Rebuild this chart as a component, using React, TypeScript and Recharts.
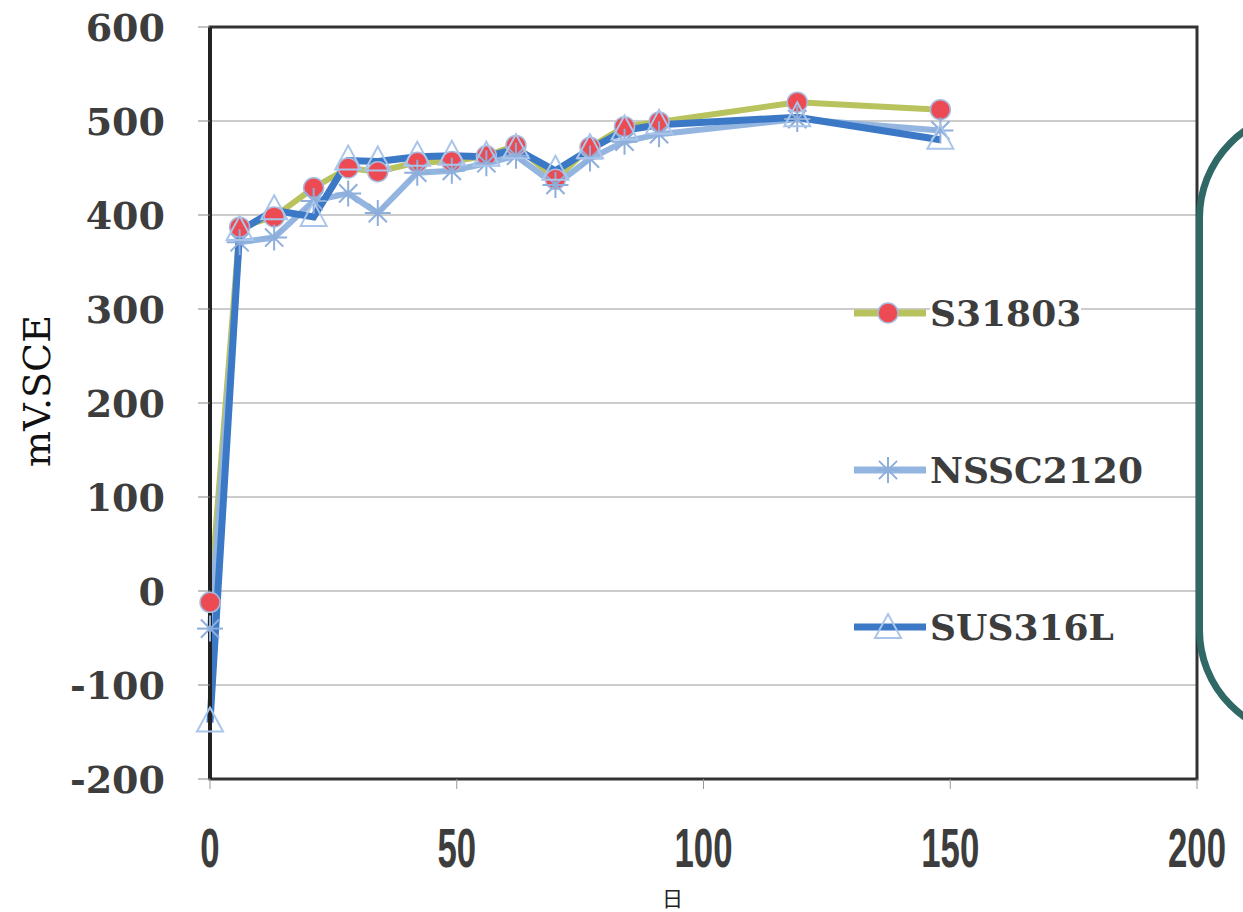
import React from 'react';
import {
  LineChart,
  Line,
  XAxis,
  YAxis,
  CartesianGrid,
  ReferenceArea,
} from 'recharts';

// Immersion days and potentials (mV vs SCE) per alloy
const days = [0, 6, 13, 21, 28, 34, 42, 49, 56, 62, 70, 77, 84, 91, 119, 148];
const s31803 = [-12, 387, 398, 429, 450, 446, 456, 457, 463, 474, 438, 472, 494, 499, 520, 512];
const nssc2120 = [-40, 371, 376, 415, 423, 402, 445, 447, 455, 463, 432, 460, 478, 486, 502, 490];
const sus316l = [-140, 383, 405, 398, 458, 457, 462, 463, 462, 470, 447, 470, 490, 496, 504, 480];

const xTicks = [0, 50, 100, 150, 200];
const yTicks = [-200, -100, 0, 100, 200, 300, 400, 500, 600];

const seriesNames = ['S31803', 'NSSC2120', 'SUS316L'];

const data = days.map((d, i) => ({
  day: d,
  S31803: s31803[i],
  NSSC2120: nssc2120[i],
  SUS316L: sus316l[i],
}));

const COLORS: Record<string, string> = {
  S31803: '#b9c35e',
  NSSC2120: '#93b5e0',
  SUS316L: '#3b78c6',
};

const TEXT = '#3d3d3d';

const CircleDot = (props: any) => {
  const { cx, cy, index } = props;
  if (cx == null || cy == null) return null;
  return (
    <circle
      key={`c-${index}`}
      cx={cx}
      cy={cy}
      r={10}
      fill="#ec4b53"
      stroke="#a9b9dc"
      strokeWidth={1.5}
    />
  );
};

const StarDot = (props: any) => {
  const { cx, cy, index } = props;
  if (cx == null || cy == null) return null;
  const r = 13;
  const a = r * 0.7;
  return (
    <g key={`s-${index}`} stroke="#8eaedb" strokeWidth={2}>
      <line x1={cx - r} y1={cy} x2={cx + r} y2={cy} />
      <line x1={cx} y1={cy - r} x2={cx} y2={cy + r} />
      <line x1={cx - a} y1={cy - a} x2={cx + a} y2={cy + a} />
      <line x1={cx - a} y1={cy + a} x2={cx + a} y2={cy - a} />
    </g>
  );
};

const TriDot = (props: any) => {
  const { cx, cy, index } = props;
  if (cx == null || cy == null) return null;
  return (
    <path
      key={`t-${index}`}
      d={`M${cx},${cy - 15} L${cx + 13},${cy + 9} L${cx - 13},${cy + 9} Z`}
      fill="none"
      stroke="#aac5ea"
      strokeWidth={2}
    />
  );
};

const XTick = (props: any) => {
  const { x, y, payload } = props;
  return (
    <g transform={`translate(${x},${y})`}>
      <text
        transform="scale(0.62,1)"
        textAnchor="middle"
        dominantBaseline="central"
        fontSize={56}
        fontWeight="bold"
        fontFamily="'Liberation Sans', Arial, sans-serif"
        fill={TEXT}
      >
        {payload.value}
      </text>
    </g>
  );
};

const YTick = (props: any) => {
  const { x, y, payload } = props;
  return (
    <text
      x={x}
      y={y}
      textAnchor="end"
      dominantBaseline="central"
      fontSize={38}
      fontWeight="bold"
      fontFamily="'DejaVu Serif', serif"
      fill={TEXT}
    >
      {payload.value}
    </text>
  );
};

const Swatch = ({ name }: { name: string }) => {
  const color = COLORS[name];
  return (
    <svg width={76} height={40} style={{ display: 'block' }}>
      <line x1={2} y1={20} x2={74} y2={20} stroke={color} strokeWidth={7} />
      {name === 'S31803' && <CircleDot cx={36} cy={20} index={0} />}
      {name === 'NSSC2120' && <StarDot cx={36} cy={20} index={0} />}
      {name === 'SUS316L' && <TriDot cx={36} cy={22} index={0} />}
    </svg>
  );
};

const SeriesLegend = () => (
  <div style={{ position: 'absolute', left: 852, top: 293, width: 320 }}>
    {seriesNames.map((name, i) => (
      <div
        key={name}
        style={{
          display: 'flex',
          alignItems: 'center',
          height: 40,
          marginBottom: i < seriesNames.length - 1 ? 117 : 0,
        }}
      >
        <Swatch name={name} />
        <span
          style={{
            marginLeft: 2,
            fontFamily: "'DejaVu Serif', serif",
            fontWeight: 'bold',
            fontSize: 36,
            color: TEXT,
            lineHeight: '40px',
            background: '#fff',
          }}
        >
          {name}
        </span>
      </div>
    ))}
  </div>
);

const DayLabel = (props: any) => {
  const { viewBox } = props;
  const cx = viewBox.x + viewBox.width / 2 - 31;
  return (
    <text
      x={cx}
      y={906}
      textAnchor="middle"
      fontSize={21}
      fontFamily="'Noto Sans CJK JP', sans-serif"
      fill="#222"
    >
      日
    </text>
  );
};

const UnitLabel = (props: any) => {
  const { viewBox } = props;
  const cy = viewBox.y + viewBox.height / 2 - 12;
  const cx = 37;
  return (
    <text
      x={cx}
      y={cy}
      transform={`rotate(-90, ${cx}, ${cy})`}
      textAnchor="middle"
      dominantBaseline="central"
      fontSize={38}
      fontFamily="'DejaVu Serif', serif"
      fill="#111"
    >
      mV.SCE
    </text>
  );
};

export default function App() {
  return (
    <div
      style={{
        position: 'fixed',
        left: 0,
        top: 0,
        width: 1243,
        height: 912,
        overflow: 'hidden',
        background: '#fff',
      }}
    >
      <LineChart
        width={1243}
        height={912}
        data={data}
        margin={{ top: 27, right: 46, bottom: 0, left: 0 }}
      >
        <CartesianGrid
          horizontal
          vertical={false}
          stroke="#9a9a9a"
          strokeWidth={1.2}
        />
        <XAxis
          dataKey="day"
          type="number"
          domain={[0, 200]}
          ticks={xTicks}
          height={133}
          tickSize={10}
          tickMargin={59}
          tick={<XTick />}
          axisLine={{ stroke: '#333', strokeWidth: 2 }}
          tickLine={{ stroke: '#999' }}
          label={<DayLabel />}
        />
        <YAxis
          type="number"
          domain={[-200, 600]}
          ticks={yTicks}
          width={210}
          tickSize={12}
          tickMargin={33}
          tick={<YTick />}
          axisLine={{ stroke: '#222', strokeWidth: 4 }}
          tickLine={{ stroke: '#888' }}
          label={<UnitLabel />}
          allowDataOverflow
        />
        <ReferenceArea
          x1={0}
          x2={200}
          y1={-200}
          y2={600}
          fill="none"
          stroke="#333"
          strokeWidth={3}
          ifOverflow="visible"
        />
        <Line
          dataKey="S31803"
          name="S31803"
          stroke={COLORS.S31803}
          strokeWidth={6}
          dot={<CircleDot />}
          activeDot={false}
          isAnimationActive={false}
        />
        <Line
          dataKey="NSSC2120"
          name="NSSC2120"
          stroke={COLORS.NSSC2120}
          strokeWidth={6}
          dot={<StarDot />}
          activeDot={false}
          isAnimationActive={false}
        />
        <Line
          dataKey="SUS316L"
          name="SUS316L"
          stroke={COLORS.SUS316L}
          strokeWidth={7}
          dot={<TriDot />}
          activeDot={false}
          isAnimationActive={false}
        />
      </LineChart>
      <SeriesLegend />
      <div
        style={{
          position: 'absolute',
          left: 1196,
          top: 108,
          width: 320,
          height: 632,
          border: '7px solid #2f6865',
          borderRadius: 110,
          boxSizing: 'border-box',
        }}
      />
    </div>
  );
}
